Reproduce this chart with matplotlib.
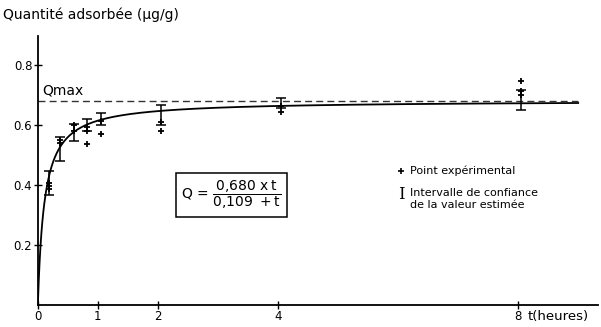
"""Cinétique d'adsorption: quantité adsorbée en fonction du temps."""

import matplotlib.pyplot as plt
import numpy as np

# Paramètres du modèle Q = a*t / (b + t)
q_max = 0.680
k_demi = 0.109

# Intervalles de confiance (temps, borne basse, borne haute)
t_ic = [0.18, 0.37, 0.60, 0.82, 1.05, 2.05, 4.05, 8.05]
ic_bas = [0.365, 0.480, 0.545, 0.578, 0.597, 0.600, 0.655, 0.650]
ic_haut = [0.445, 0.557, 0.603, 0.617, 0.640, 0.666, 0.690, 0.715]

# Points expérimentaux
t_pts = [0.18, 0.18, 0.18, 0.37, 0.37, 0.60, 0.60,
         0.82, 0.82, 0.82, 1.05, 1.05, 2.05, 2.05,
         4.05, 4.05, 8.05, 8.05, 8.05]
q_pts = [0.407, 0.397, 0.384, 0.548, 0.538, 0.597, 0.578,
         0.593, 0.577, 0.534, 0.613, 0.570, 0.610, 0.577,
         0.662, 0.643, 0.744, 0.711, 0.700]

x_ticks = [0, 1, 2, 4, 8]
y_ticks = [0.2, 0.4, 0.6, 0.8]


def main():
    plt.rcParams.update({"font.family": "DejaVu Sans", "font.size": 8.5})

    fig = plt.figure(figsize=(6.01, 3.27), dpi=100)
    ax = fig.add_axes([0.063, 0.068, 0.932, 0.822])

    t = np.linspace(0, 9.0, 600)
    ax.plot(t, q_max * t / (k_demi + t), color="black", lw=1.3)
    ax.plot([0, 9.0], [q_max, q_max], color="#333333", lw=1.0,
            dashes=(5, 3))

    ic_bas_arr = np.array(ic_bas)
    ic_haut_arr = np.array(ic_haut)
    centre = (ic_bas_arr + ic_haut_arr) / 2
    ax.errorbar(t_ic, centre, yerr=[centre - ic_bas_arr, ic_haut_arr - centre],
                fmt="none", ecolor="black", elinewidth=1.1, capsize=3.5,
                capthick=1.1)
    ax.plot(t_pts, q_pts, ls="none", marker="+", color="black", ms=5, mew=1.3)

    ax.set_xlim(0, 9.33)
    ax.set_ylim(0, 0.895)
    ax.spines["top"].set_visible(False)
    ax.spines["right"].set_visible(False)
    ax.spines["left"].set_linewidth(1.3)
    ax.spines["bottom"].set_linewidth(1.3)
    ax.set_xticks(x_ticks)
    ax.set_xticklabels([str(v) for v in x_ticks])
    ax.set_yticks(y_ticks)
    ax.set_yticklabels([f"{v:.1f}" for v in y_ticks])
    ax.tick_params(direction="inout", length=6, width=1, pad=1)

    fig.text(0.005, 0.955, "Quantité adsorbée (µg/g)", fontsize=10,
             va="center", ha="left")
    ax.text(8.15, -0.04, "t(heures)", fontsize=9.5, va="center", ha="left",
            clip_on=False)
    ax.text(0.07, 0.715, "Qmax", fontsize=10, va="center", ha="left")

    # Équation dans un cadre
    ax.text(3.22, 0.365,
            r"Q = $\dfrac{\mathrm{0{,}680\ x\,t}}{\mathrm{0{,}109\ +t}}$",
            fontsize=10, ha="center", va="center",
            bbox=dict(boxstyle="square,pad=0.4", fc="white", ec="black",
                      lw=1.1))

    # Légende
    ax.plot([6.05], [0.447], ls="none", marker="+", color="black", ms=4,
            mew=1.2)
    ax.text(6.2, 0.447, "Point expérimental", fontsize=8, va="center")
    ax.text(6.05, 0.368, "I", fontsize=12, va="center", ha="center",
            family="DejaVu Serif")
    ax.text(6.2, 0.372, "Intervalle de confiance", fontsize=8, va="center")
    ax.text(6.2, 0.333, "de la valeur estimée", fontsize=8, va="center")

    fig.savefig("out.png", dpi=100)


if __name__ == "__main__":
    main()
